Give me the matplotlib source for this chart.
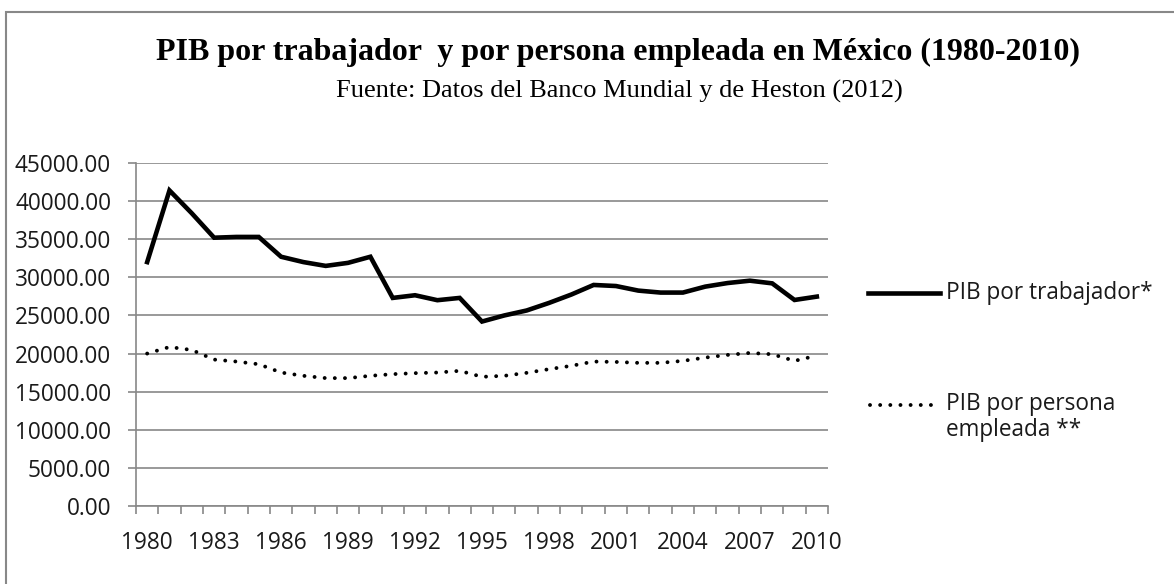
import matplotlib
matplotlib.use('Agg')
import matplotlib.pyplot as plt
from matplotlib.lines import Line2D
from matplotlib.patches import Rectangle
from matplotlib.ticker import FixedLocator, FuncFormatter

# Datos
anios = list(range(1980, 2011))
pib_trabajador = [32000, 41400, 38400, 35200, 35300, 35300, 32700, 32000, 31500, 31900,
                  32700, 27300, 27650, 27000, 27300, 24200, 25000, 25650, 26640, 27740,
                  29000, 28860, 28260, 28000, 28000, 28780, 29250, 29560, 29210, 27030,
                  27470]
pib_empleada = [20000, 20860, 20470, 19210, 18950, 18600, 17510, 17080, 16780, 16780,
                17080, 17300, 17430, 17510, 17730, 16950, 17080, 17470, 17950, 18390,
                18950, 18900, 18780, 18780, 19040, 19470, 19820, 20080, 19910, 19040,
                19730]
etiquetas = ['PIB por trabajador*', 'PIB por persona\nempleada **']
yticks = list(range(0, 45001, 5000))

titulo = 'PIB por trabajador  y por persona empleada en México (1980-2010)'
subtitulo = 'Fuente: Datos del Banco Mundial y de Heston (2012)'

W, H = 1174, 584
fig = plt.figure(figsize=(W / 100, H / 100), dpi=100)
ax = fig.add_axes([136 / W, 1 - 506 / H, (828 - 136) / W, (506 - 163) / H])

sans = 'Open Sans'
fs = 16.3
gris = '#888888'
punteado = (0, (0.01, 2.6))

x = list(range(len(anios)))
ax.plot(x, pib_trabajador, color='black', lw=3.3, solid_joinstyle='miter')
ax.plot(x, pib_empleada, color='black', lw=2.8, linestyle=punteado,
        dash_capstyle='round')

ax.set_xlim(-0.5, len(anios) - 0.5)
ax.set_ylim(0, 45000)
ax.set_yticks(yticks)
ax.yaxis.set_major_formatter(FuncFormatter(lambda v, p: '%.2f' % v))
ax.grid(axis='y', color=gris, lw=1.2)
ax.set_axisbelow(True)

# etiquetas cada 3 anios, marcas entre categorias
ax.xaxis.set_major_locator(FixedLocator(x[::3]))
ax.set_xticklabels([str(a) for a in anios[::3]])
ax.xaxis.set_minor_locator(FixedLocator([i - 0.5 for i in range(len(anios) + 1)]))
ax.tick_params(axis='x', which='major', length=0, pad=18)
ax.tick_params(axis='x', which='minor', length=6, width=1.2, color=gris)
ax.tick_params(axis='y', length=6, width=1.2, color=gris, pad=12)
for lab in ax.get_xticklabels() + ax.get_yticklabels():
    lab.set_fontfamily(sans)
    lab.set_fontsize(fs)
    lab.set_color('#1a1a1a')

for s in ['top', 'right']:
    ax.spines[s].set_visible(False)
for s in ['left', 'bottom']:
    ax.spines[s].set_color(gris)
    ax.spines[s].set_linewidth(1.2)

# leyenda
fig.add_artist(Line2D([868 / W, 940 / W], [1 - 293 / H] * 2, color='black', lw=3.3))
fig.text(946 / W, 1 - 293 / H, etiquetas[0], fontsize=fs, family=sans,
         va='center', ha='left', color='#1a1a1a')
fig.add_artist(Line2D([870 / W, 936 / W], [1 - 405 / H] * 2, color='black', lw=2.8,
                      linestyle=punteado, dash_capstyle='round'))
fig.text(946 / W, 1 - 392 / H, etiquetas[1], fontsize=fs, family=sans,
         va='top', ha='left', color='#1a1a1a', linespacing=1.1)

fig.text(618 / W, 1 - 52 / H, titulo, fontsize=23, family='Liberation Serif',
         weight='bold', ha='center', va='center')
fig.text(619 / W, 1 - 91 / H, subtitulo, fontsize=19, family='Liberation Serif',
         ha='center', va='center')

fig.add_artist(Rectangle((6 / W, -0.1), 1.2, 1.1 - 12 / H, transform=fig.transFigure,
                         fill=False, edgecolor=gris, lw=1.5))

fig.savefig('out.png', dpi=100)
